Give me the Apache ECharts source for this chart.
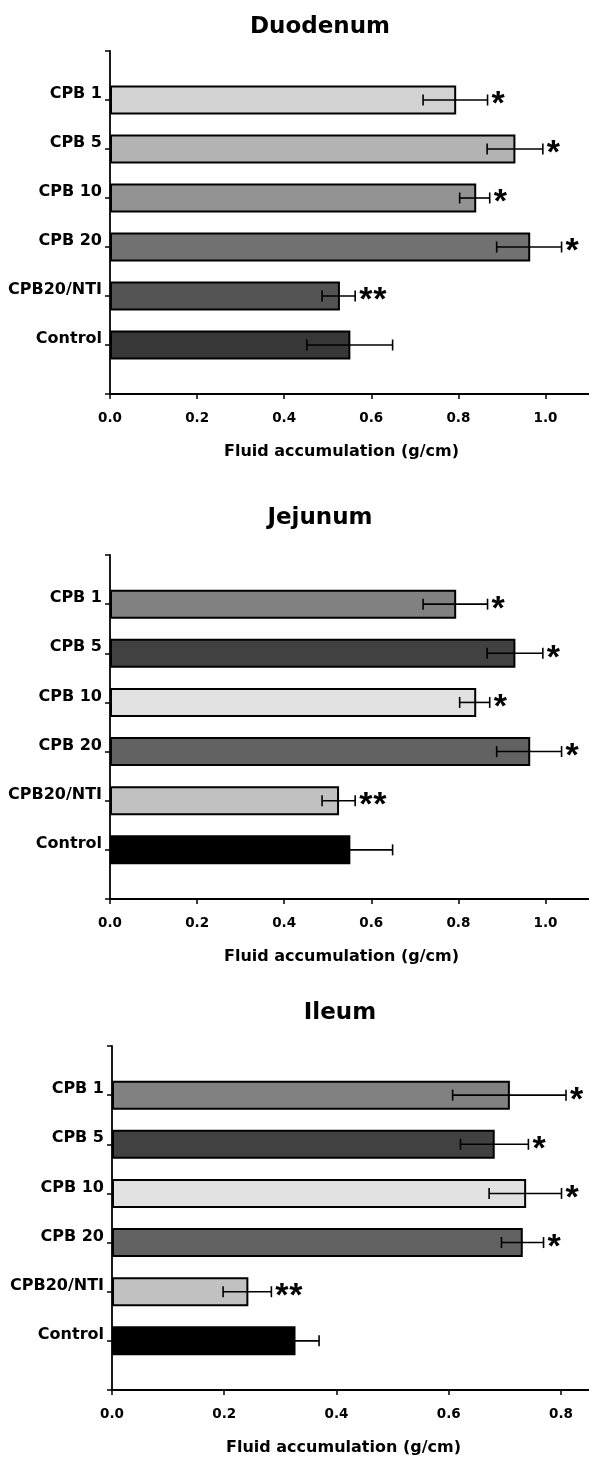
<!DOCTYPE html>
<html>
<head>
<meta charset="utf-8">
<script src="https://cdn.jsdelivr.net/npm/echarts@6/dist/echarts.min.js"></script>
<style>
html,body{margin:0;padding:0;background:#fff;}
#chart{width:589px;height:1459px;}
</style>
</head>
<body>
<div id="chart"></div>
<script>
// ---- data ----
const categories = ['CPB 1', 'CPB 5', 'CPB 10', 'CPB 20', 'CPB20/NTI', 'Control'];
const marks = ['*', '*', '*', '*', '**', ''];
const xTicksDJ = ['0.0', '0.2', '0.4', '0.6', '0.8', '1.0'];
const xTicksI = ['0.0', '0.2', '0.4', '0.6', '0.8'];

const duodenumMean = [0.795, 0.931, 0.841, 0.965, 0.528, 0.552];
const duodenumLow  = [0.719, 0.866, 0.803, 0.888, 0.487, 0.452];
const duodenumHigh = [0.867, 0.994, 0.872, 1.037, 0.563, 0.649];

const jejunumMean = [0.795, 0.931, 0.841, 0.965, 0.526, 0.552];
const jejunumLow  = [0.719, 0.866, 0.803, 0.888, 0.487, 0.452];
const jejunumHigh = [0.867, 0.994, 0.872, 1.037, 0.563, 0.649];

const ileumMean = [0.709, 0.682, 0.738, 0.732, 0.243, 0.327];
const ileumLow  = [0.607, 0.621, 0.672, 0.694, 0.198, 0.285];
const ileumHigh = [0.809, 0.742, 0.801, 0.769, 0.284, 0.369];

const duodenumColors = ['#d2d2d2', '#b3b3b3', '#939393', '#717171', '#545454', '#373737'];
const jejunumColors  = ['#818181', '#414141', '#e1e1e1', '#626262', '#c1c1c1', '#000000'];
const ileumColors    = ['#818181', '#414141', '#e1e1e1', '#626262', '#c1c1c1', '#000000'];

// ---- layout ----
const FONT = 'DejaVu Sans';
const yCats = [' '].concat(categories).concat(['  ']);
const panels = [
  {title: 'Duodenum', titleX: 320, titleY: 27.5, grid: {left: 110, top: 51, width: 479, height: 343},
   max: 1.1, ticks: xTicksDJ, mean: duodenumMean, low: duodenumLow, high: duodenumHigh, colors: duodenumColors, namePad: 16},
  {title: 'Jejunum', titleX: 320, titleY: 518.5, grid: {left: 110, top: 555, width: 479, height: 344},
   max: 1.1, ticks: xTicksDJ, mean: jejunumMean, low: jejunumLow, high: jejunumHigh, colors: jejunumColors, namePad: 16},
  {title: 'Ileum', titleX: 340, titleY: 1013.4, grid: {left: 112, top: 1046, width: 477, height: 344},
   max: 0.85, ticks: xTicksI, mean: ileumMean, low: ileumLow, high: ileumHigh, colors: ileumColors, namePad: 14}
];

const chart = echarts.init(document.getElementById('chart'), null, {renderer: 'canvas'});

const grids = [], xAxes = [], yAxes = [], series = [], graphics = [];

panels.forEach((p, k) => {
  grids.push(Object.assign({containLabel: false}, p.grid));
  xAxes.push({
    type: 'value', gridIndex: k, min: 0, max: p.max, interval: 0.2,
    splitLine: {show: false},
    axisLine: {show: true, lineStyle: {color: '#000', width: 1.8}},
    axisTick: {show: true, inside: false, length: 5, lineStyle: {color: '#000', width: 1.5}},
    axisLabel: {
      show: true, margin: 17, showMaxLabel: false,
      fontFamily: FONT, fontWeight: 'bold', fontSize: 13.5, color: '#000',
      formatter: function (v) {
        const s = v.toFixed(1);
        return p.ticks.indexOf(s) >= 0 && Math.abs(v * 5 - Math.round(v * 5)) < 1e-6 ? s : '';
      }
    },
    name: 'Fluid accumulation (g/cm)', nameLocation: 'middle', nameGap: 50,
    nameTextStyle: {fontFamily: FONT, fontWeight: 'bold', fontSize: 16, color: '#000', padding: [0, p.namePad, 0, 0]}
  });
  yAxes.push({
    type: 'category', gridIndex: k, data: yCats, inverse: true, boundaryGap: false,
    axisLine: {show: true, onZero: false, lineStyle: {color: '#000', width: 1.8}},
    axisTick: {show: true, inside: false, length: 5, interval: 0, lineStyle: {color: '#000', width: 1.5}},
    splitLine: {show: false},
    axisLabel: {
      show: true, interval: 0, margin: 8, align: 'right', verticalAlign: 'bottom',
      lineHeight: 12,
      fontFamily: FONT, fontWeight: 'bold', fontSize: 16, color: '#000'
    }
  });
  series.push({
    type: 'bar', xAxisIndex: k, yAxisIndex: k, barWidth: 29,
    itemStyle: {borderColor: '#000', borderWidth: 2},
    emphasis: {disabled: true}, silent: true,
    data: p.mean.map((v, i) => ({value: [v, categories[i]], itemStyle: {color: p.colors[i]}})),
    z: 2
  });
  series.push({
    type: 'custom', xAxisIndex: k, yAxisIndex: k, silent: true, z: 5,
    dimensions: ['lo', 'hi', 'cat'],
    encode: {x: ['lo', 'hi'], y: 'cat'},
    data: p.low.map((lo, i) => [lo, p.high[i], i + 1]),
    renderItem: function (params, api) {
      const idx = api.value(2);
      const a = api.coord([api.value(0), idx]);
      const b = api.coord([api.value(1), idx]);
      const h = 5.5;
      const ls = {stroke: '#000', lineWidth: 1.6};
      const children = [
        {type: 'line', shape: {x1: a[0], y1: a[1], x2: b[0], y2: b[1]}, style: ls},
        {type: 'line', shape: {x1: a[0], y1: a[1] - h, x2: a[0], y2: a[1] + h}, style: ls},
        {type: 'line', shape: {x1: b[0], y1: b[1] - h, x2: b[0], y2: b[1] + h}, style: ls}
      ];
      const m = marks[params.dataIndex];
      for (let c = 0; c < m.length; c++) {
        children.push({
          type: 'text',
          style: {
            text: m[c], x: b[0] + 4 + c * 14, y: b[1] + 5,
            font: 'bold 34px "Liberation Sans"', fill: '#000',
            textAlign: 'left', textVerticalAlign: 'middle'
          }
        });
      }
      return {type: 'group', children: children};
    }
  });
  graphics.push({
    type: 'text', x: p.titleX, y: p.titleY, silent: true,
    style: {text: p.title, font: 'bold 23px "' + FONT + '"', fill: '#000', textAlign: 'center', textVerticalAlign: 'middle'}
  });
});

chart.setOption({
  backgroundColor: '#fff',
  animation: false,
  grid: grids,
  xAxis: xAxes,
  yAxis: yAxes,
  series: series,
  graphic: graphics
});
</script>
</body>
</html>
